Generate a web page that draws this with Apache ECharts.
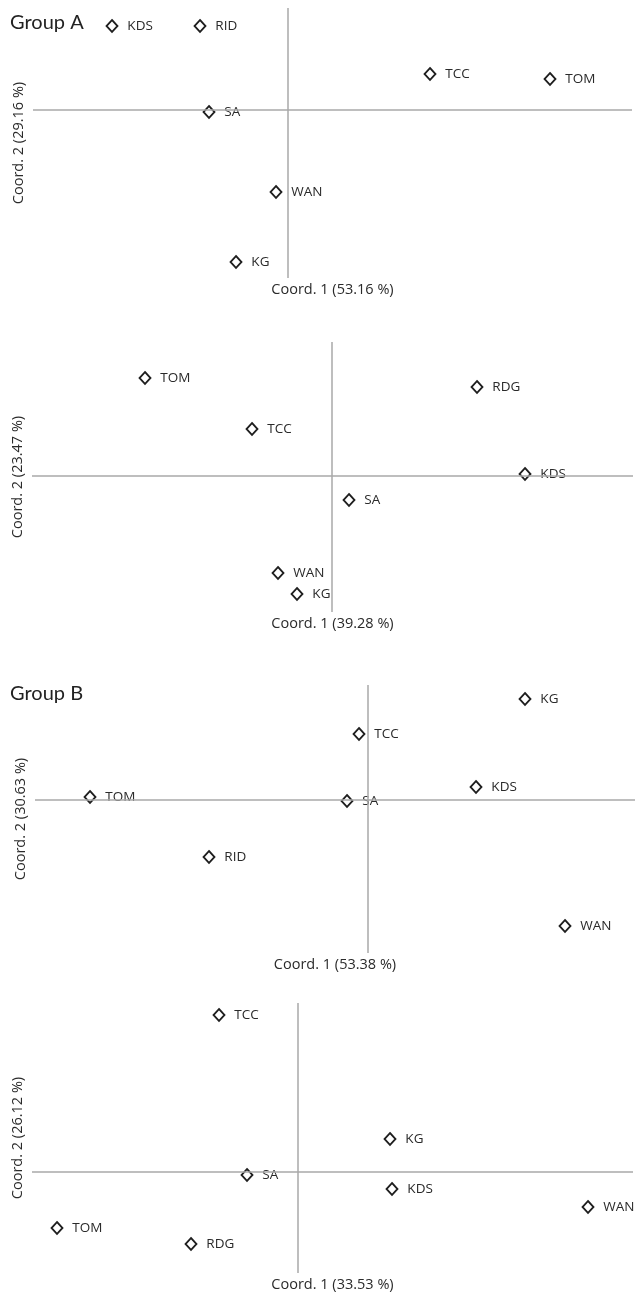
<!DOCTYPE html>
<html>
<head>
<meta charset="utf-8">
<script src="https://cdn.jsdelivr.net/npm/echarts@6/dist/echarts.min.js"></script>
<style>
html,body{margin:0;padding:0;background:#fff;}
#chart{width:638px;height:1294px;}
</style>
</head>
<body>
<div id="chart"></div>
<script>
// ---- Data ----
// Group A, first plot
const a1Names = ['KDS', 'RID', 'TCC', 'TOM', 'SA', 'WAN', 'KG'];
const a1X = [-0.352, -0.176, 0.284, 0.524, -0.158, -0.024, -0.104];
const a1Y = [0.168, 0.168, 0.072, 0.062, -0.004, -0.164, -0.304];
const a1AxisNames = ['Coord. 1 (53.16 %)', 'Coord. 2 (29.16 %)'];

// Group A, second plot
const a2Names = ['TOM', 'RDG', 'TCC', 'KDS', 'SA', 'WAN', 'KG'];
const a2X = [-0.374, 0.29, -0.16, 0.386, 0.034, -0.108, -0.07];
const a2Y = [0.196, 0.178, 0.094, 0.004, -0.048, -0.194, -0.236];
const a2AxisNames = ['Coord. 1 (39.28 %)', 'Coord. 2 (23.47 %)'];

// Group B, first plot
const b1Names = ['KG', 'TCC', 'KDS', 'TOM', 'SA', 'RID', 'WAN'];
const b1X = [0.314, -0.018, 0.216, -0.556, -0.042, -0.318, 0.394];
const b1Y = [0.202, 0.132, 0.026, 0.006, -0.002, -0.114, -0.252];
const b1AxisNames = ['Coord. 1 (53.38 %)', 'Coord. 2 (30.63 %)'];

// Group B, second plot
const b2Names = ['TCC', 'KG', 'SA', 'KDS', 'WAN', 'TOM', 'RDG'];
const b2X = [-0.158, 0.184, -0.102, 0.188, 0.58, -0.482, -0.214];
const b2Y = [0.314, 0.066, -0.006, -0.034, -0.07, -0.112, -0.144];
const b2AxisNames = ['Coord. 1 (33.53 %)', 'Coord. 2 (26.12 %)'];

const groupTitles = ['Group A', 'Group B'];

// ---- Layout ----
const FONT = '"Open Sans", Lato, sans-serif';
const TFONT = 'Lato, "Open Sans", sans-serif';
const panels = [
  {names: a1Names, xs: a1X, ys: a1Y, axisNames: a1AxisNames,
   grid: {left: 33, top: 8, width: 599, height: 270}, xr: [-0.51, 0.688], yr: [-0.336, 0.204]},
  {names: a2Names, xs: a2X, ys: a2Y, axisNames: a2AxisNames,
   grid: {left: 32, top: 342, width: 601, height: 270}, xr: [-0.6, 0.602], yr: [-0.272, 0.268]},
  {names: b1Names, xs: b1X, ys: b1Y, axisNames: b1AxisNames,
   grid: {left: 35, top: 685, width: 600, height: 268}, xr: [-0.666, 0.534], yr: [-0.306, 0.23]},
  {names: b2Names, xs: b2X, ys: b2Y, axisNames: b2AxisNames,
   grid: {left: 32, top: 1003, width: 601, height: 270}, xr: [-0.532, 0.67], yr: [-0.202, 0.338]}
];

const grids = [], xAxes = [], yAxes = [], series = [];
panels.forEach((p, i) => {
  grids.push(Object.assign({containLabel: false}, p.grid));
  xAxes.push({
    type: 'value', gridIndex: i, min: p.xr[0], max: p.xr[1],
    axisLine: {show: false}, axisTick: {show: false}, axisLabel: {show: false}, splitLine: {show: false},
    name: p.axisNames[0], nameLocation: 'middle', nameGap: 4,
    nameTextStyle: {fontFamily: FONT, fontSize: 14.5, color: '#2a2a2a', verticalAlign: 'top'}
  });
  yAxes.push({
    type: 'value', gridIndex: i, min: p.yr[0], max: p.yr[1],
    axisLine: {show: false}, axisTick: {show: false}, axisLabel: {show: false}, splitLine: {show: false},
    name: p.axisNames[1], nameLocation: 'middle', nameGap: 7, nameRotate: 90,
    nameTextStyle: {fontFamily: FONT, fontSize: 14.5, color: '#2a2a2a'}
  });
  // cross lines through the origin
  series.push({
    type: 'line', xAxisIndex: i, yAxisIndex: i, data: [], z: 1, silent: true,
    markLine: {
      silent: true, symbol: ['none', 'none'], label: {show: false},
      lineStyle: {color: '#a8a8a8', width: 1.5, type: 'solid'},
      data: [{xAxis: 0}, {yAxis: 0}]
    }
  });
  series.push({
    type: 'scatter', xAxisIndex: i, yAxisIndex: i, z: 3,
    symbol: 'diamond', symbolSize: [11, 12],
    itemStyle: {color: '#ffffff', borderColor: '#1e1e1e', borderWidth: 1.8, opacity: 1},
    label: {show: true, position: 'right', distance: 9, formatter: (d) => d.data[2],
      fontFamily: FONT, fontSize: 13.5, color: '#2a2a2a'},
    data: p.names.map((n, k) => [p.xs[k], p.ys[k], n])
  });
});

const chart = echarts.init(document.getElementById('chart'), null, {renderer: 'canvas'});
chart.setOption({
  animation: false,
  backgroundColor: '#fff',
  title: [
    {text: groupTitles[0], left: 5, top: 8, textStyle: {fontFamily: TFONT, fontSize: 20, fontWeight: 'normal', color: '#222'}},
    {text: groupTitles[1], left: 5, top: 679, textStyle: {fontFamily: TFONT, fontSize: 20, fontWeight: 'normal', color: '#222'}}
  ],
  grid: grids,
  xAxis: xAxes,
  yAxis: yAxes,
  series: series
});
</script>
</body>
</html>
